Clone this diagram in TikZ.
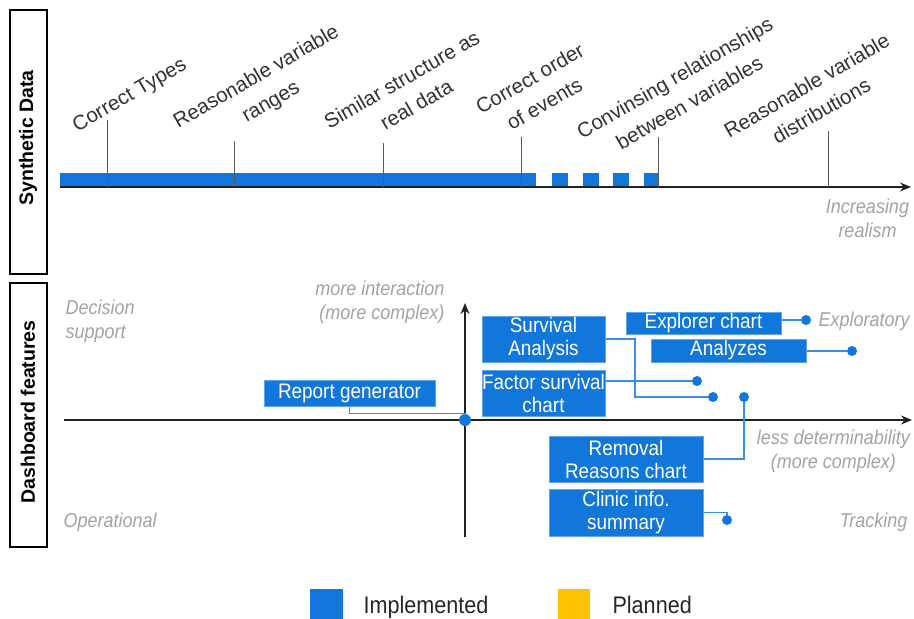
\documentclass[tikz,border=0pt]{standalone}
\usepackage{fontspec}
\setmainfont{Liberation Sans}
\newfontfamily\hfont{Liberation Sans}[FakeStretch=0.9]
\usetikzlibrary{arrows.meta}
\definecolor{impblue}{HTML}{1277DA}
\definecolor{impedge}{HTML}{5FA5EE}
\definecolor{lnblue}{HTML}{3A8EE3}
\definecolor{plyellow}{HTML}{FFC000}
\definecolor{lblgray}{HTML}{A3A3A3}
\definecolor{txtdark}{HTML}{333333}
\definecolor{tickgray}{HTML}{5A5A5A}
\begin{document}
\begin{tikzpicture}[x=1pt,y=-1pt,
  feat/.style={draw=impedge, line width=1pt, fill=impblue, text=white, align=center, inner sep=0pt,
    font=\hfont\fontsize{21}{23}\selectfont},
  conn/.style={draw=lnblue, line width=1.3pt},
  dotn/.style={circle, fill=impblue, inner sep=0pt, minimum size=10pt},
  axis/.style={draw=black!87, line width=1.5pt, -{Stealth[length=11pt,width=9pt]}},
  tickl/.style={draw=tickgray, line width=1pt},
  milestone/.style={text=txtdark, rotate=30, align=center, font=\fontsize{20.5}{29}\selectfont},
  hint/.style={text=lblgray, font=\hfont\itshape\fontsize{20}{24}\selectfont},
  sidelabel/.style={rotate=90, font=\bfseries\fontsize{19.5}{22}\selectfont},
  sidebox/.style={draw=black, line width=1.2pt},
  legtext/.style={text=black!85, font=\hfont\fontsize{24}{26}\selectfont}
]
\useasboundingbox (0,0) rectangle (914,619);

% side boxes
\draw[sidebox] (10,10) rectangle (47,274);
\node[sidelabel] (sd) at (28,138) {Synthetic Data};
\draw[sidebox] (10,283) rectangle (47,547);
\node[sidelabel] (df) at (28,412) {Dashboard features};

% ---------- synthetic data timeline ----------
\fill[impblue] (60,173) rectangle (536,187);
\fill[impblue] (552,173) rectangle (568,187);
\fill[impblue] (583,173) rectangle (599,187);
\fill[impblue] (613,173) rectangle (629,187);
\fill[impblue] (644,173) rectangle (658,187);
\coordinate (ts) at (60,187);
\coordinate (te) at (911,187);
\draw[axis] (ts) -- (te);

\draw[tickl] (107,120) -- (107,187);
\draw[tickl] (234,141) -- (234,187);
\draw[tickl] (383,143) -- (383,187);
\draw[tickl] (521,137) -- (521,187);
\draw[tickl] (658,137) -- (658,187);
\draw[tickl] (828,131) -- (828,187);

\node[milestone] (m1) at (130,96) {Correct Types};
\node[milestone] (m2) at (264,90) {Reasonable variable\\ranges};
\node[milestone] (m3) at (409,92) {Similar structure as\\real data};
\node[milestone] (m4) at (537,91) {Correct order\\of events};
\node[milestone] (m5) at (682,90) {Convinsing relationships\\between variables};
\node[milestone] (m6) at (814,98) {Reasonable variable\\distributions};

\node[hint, align=center] (ir) at (867.5,218) {Increasing\\realism};

% ---------- dashboard quadrant ----------
\coordinate (hx0) at (64,420);
\coordinate (hx1) at (912,420);
\coordinate (vy0) at (465,537);
\coordinate (vy1) at (465,303);
\draw[axis] (hx0) -- (hx1);
\draw[axis] (vy0) -- (vy1);

\node[hint, align=right, anchor=east] (mi) at (448,302) {more interaction\\(more complex)};
\node[hint, align=left, anchor=west] (ds) at (62,321) {Decision\\support};
\node[hint, anchor=base west] (op) at (60,527) {Operational};
\node[hint, anchor=base west] (ex) at (815,326) {Exploratory};
\node[hint, align=center] (ld) at (833.5,451) {less determinability\\(more complex)};
\node[hint, anchor=base east] (tr) at (911,527) {Tracking};

% feature boxes
\node[feat, minimum width=171pt, minimum height=26pt] (rg) at (349.5,393) {Report generator};
\node[feat, minimum width=123pt, minimum height=46pt] (sa) at (543.5,339) {Survival\\Analysis};
\node[feat, minimum width=123pt, minimum height=46pt] (fs) at (543.5,393) {Factor survival\\chart};
\node[feat, minimum width=155pt, minimum height=22pt] (ec) at (703.5,323) {Explorer chart};
\node[feat, minimum width=155pt, minimum height=23pt] (an) at (728.5,350.5) {Analyzes};
\node[feat, minimum width=154pt, minimum height=46pt] (rr) at (626,459) {Removal\\Reasons chart};
\node[feat, minimum width=154pt, minimum height=47pt] (cl) at (626,512.5) {Clinic info.\\summary};

% dots
\node[dotn, minimum size=12pt] (o) at (465,420) {};
\node[dotn] (d1) at (697,381) {};
\node[dotn] (d2) at (713,397) {};
\node[dotn] (d3) at (806,320) {};
\node[dotn] (d4) at (852,351) {};
\node[dotn] (d5) at (744,397) {};
\node[dotn] (d6) at (727,520) {};

% connectors
\draw[conn] (rg.south) -- ++(0,7) -| (o);
\draw[conn] (sa.east) -| (635,397) -- (d2);
\draw[conn] (fs.east |- d1) -- (d1);
\draw[conn] (ec.east |- d3) -- (d3);
\draw[conn] (an.east |- d4) -- (d4);
\draw[conn] (rr.east) -| (d5);
\draw[conn] (cl.east) -| (d6);

% legend
\fill[impblue] (310,589) rectangle (343,619);
\node[legtext, anchor=base west] (li) at (360,613) {Implemented};
\fill[plyellow] (558,589) rectangle (590,619);
\node[legtext, anchor=base west] (lp) at (609,613) {Planned};
\end{tikzpicture}
\end{document}
